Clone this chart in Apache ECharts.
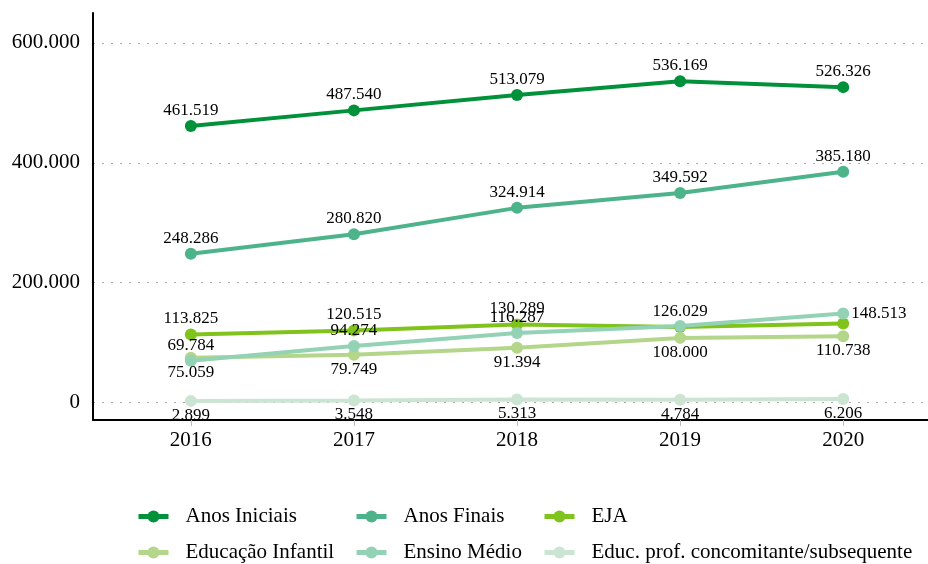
<!DOCTYPE html>
<html>
<head>
<meta charset="utf-8">
<title>Matrículas</title>
<script src="https://cdn.jsdelivr.net/npm/echarts@6/dist/echarts.min.js"></script>
<style>
  html, body { margin: 0; padding: 0; background: #fff; }
  #main { width: 928px; height: 564px; }
</style>
</head>
<body>
<div id="main"></div>
<script type="text/javascript">
// dados
var anos = [2016, 2017, 2018, 2019, 2020];
var anosIniciais = [461519, 487540, 513079, 536169, 526326];
var anosFinais = [248286, 280820, 324914, 349592, 385180];
var eja = [113825, 120515, 130289, 126029, 132000];
var educacaoInfantil = [75059, 79749, 91394, 108000, 110738];
var ensinoMedio = [69784, 94274, 116287, 128000, 148513];
var educProf = [2899, 3548, 5313, 4784, 6206];
var yTicks = [0, 200000, 400000, 600000];

var fonte = '"Liberation Serif", "Times New Roman", serif';

function fmt(v) {
    return String(Math.round(v)).replace(/\B(?=(\d{3})+(?!\d))/g, '.');
}

// monta pares [ano, valor]; labels ocultos onde o original não mostra
function pares(vals, semLabel, posicoes) {
    return vals.map(function (v, i) {
        var item = { value: [anos[i], v] };
        if (semLabel && semLabel.indexOf(i) >= 0) item.label = { show: false };
        if (posicoes && posicoes[i]) item.label = { position: posicoes[i], distance: 2 };
        return item;
    });
}

function serie(nome, cor, vals, pos, semLabel, posicoes) {
    return {
        name: nome,
        type: 'line',
        data: pares(vals, semLabel, posicoes),
        symbol: 'circle',
        symbolSize: 12,
        lineStyle: { width: 4, color: cor },
        itemStyle: { color: cor },
        label: {
            show: true,
            position: pos,
            distance: pos === 'top' ? 1 : 0,
            color: '#000',
            fontFamily: fonte,
            fontSize: 17,
            formatter: function (p) { return fmt(p.value[1]); }
        }
    };
}

var cores = ['#00913a', '#4db38a', '#7fc31c', '#b3d68a', '#93d2b5', '#cbe5d2'];
var nomes = ['Anos Iniciais', 'Anos Finais', 'EJA', 'Educação Infantil', 'Ensino Médio',
    'Educ. prof. concomitante/subsequente'];
var legPos = [[136, 506], [354, 506], [542, 506], [136, 542], [354, 542], [542, 542]];

var chart = echarts.init(document.getElementById('main'));

chart.setOption({
    animation: false,
    grid: { left: 93, right: 0, top: 13, bottom: 144 },
    legend: nomes.map(function (n, i) {
        return {
            data: [n],
            left: legPos[i][0],
            top: legPos[i][1],
            padding: 0,
            itemWidth: 30,
            itemHeight: 15,
            lineStyle: { width: 5 },
            textStyle: { fontFamily: fonte, fontSize: 21, color: '#000', padding: [0, 0, 0, 12] }
        };
    }),
    xAxis: {
        type: 'value',
        min: 2015.4,
        max: 2020.52,
        axisLine: { show: true, onZero: false, lineStyle: { color: '#000', width: 2 } },
        axisTick: { show: true, length: 6, customValues: anos, lineStyle: { color: '#bbb' } },
        axisLabel: {
            customValues: anos,
            margin: 10,
            fontFamily: fonte, fontSize: 21, color: '#000',
            formatter: function (v) { return String(v); }
        },
        splitLine: { show: false }
    },
    yAxis: {
        type: 'value',
        min: -29000,
        max: 650000,
        axisLine: { show: true, onZero: false, lineStyle: { color: '#000', width: 2 } },
        axisTick: { show: false, customValues: yTicks },
        axisLabel: {
            customValues: yTicks,
            margin: 13,
            fontFamily: fonte, fontSize: 21, color: '#000',
            formatter: function (v) { return fmt(v); }
        },
        splitLine: { show: true, lineStyle: { color: '#aaa', type: [2, 7], width: 1 } }
    },
    series: [
        serie(nomes[0], cores[0], anosIniciais, 'top'),
        serie(nomes[1], cores[1], anosFinais, 'top'),
        serie(nomes[2], cores[2], eja, 'top', [4]),
        serie(nomes[3], cores[3], educacaoInfantil, 'bottom'),
        serie(nomes[4], cores[4], ensinoMedio, 'top', [3], { 4: 'right' }),
        serie(nomes[5], cores[5], educProf, 'bottom')
    ]
});
</script>
</body>
</html>
